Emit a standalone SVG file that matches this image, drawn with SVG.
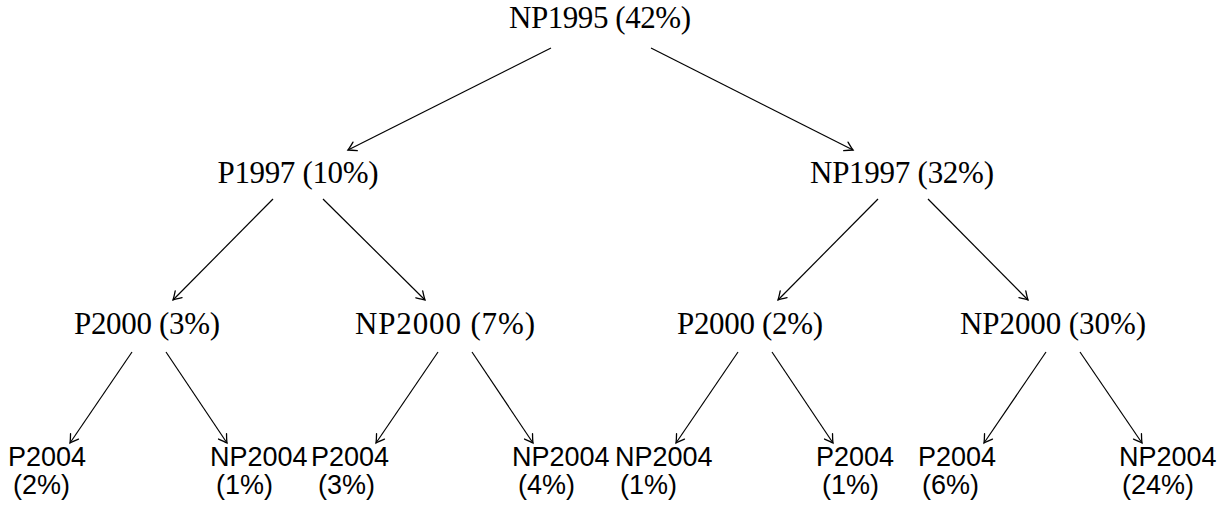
<svg xmlns="http://www.w3.org/2000/svg" width="1225" height="510" viewBox="0 0 1225 510">
  <defs>
    <marker id="tip" markerUnits="userSpaceOnUse" markerWidth="14" markerHeight="14" viewBox="-10 -7 12 14" refX="0" refY="0" orient="auto">
      <path d="M -8 -4.8 Q -2.5 -1.2 0 0 Q -2.5 1.2 -8 4.8" fill="none" stroke="#000" stroke-width="1.3" stroke-linecap="round"/>
    </marker>
    <style>
      .inner { font-family: "Liberation Serif", "DejaVu Serif", serif; font-size: 31px; fill: #000; text-anchor: middle; }
      .leaf { font-family: "Liberation Sans", "DejaVu Sans", sans-serif; font-size: 27px; fill: #000; }
      .edge { stroke: #000; stroke-width: 1.2; fill: none; marker-end: url(#tip); }
    </style>
  </defs>
  <rect width="1225" height="510" fill="#fff"/>

  <g id="edges">
    <line class="edge" x1="551" y1="48" x2="348" y2="150"/>
    <line class="edge" x1="651" y1="48" x2="853" y2="150"/>
    <line class="edge" x1="273" y1="199" x2="173" y2="300"/>
    <line class="edge" x1="323" y1="199" x2="425" y2="300"/>
    <line class="edge" x1="878" y1="199" x2="778" y2="300"/>
    <line class="edge" x1="928" y1="199" x2="1028" y2="300"/>
    <line class="edge" x1="132" y1="352" x2="70" y2="443"/>
    <line class="edge" x1="166" y1="352" x2="227" y2="443"/>
    <line class="edge" x1="438" y1="352" x2="376" y2="443"/>
    <line class="edge" x1="472" y1="352" x2="533" y2="443"/>
    <line class="edge" x1="738" y1="352" x2="676" y2="443"/>
    <line class="edge" x1="772" y1="352" x2="833" y2="443"/>
    <line class="edge" x1="1046" y1="352" x2="984" y2="443"/>
    <line class="edge" x1="1080" y1="352" x2="1142" y2="443"/>
  </g>

  <g id="np1995"><text class="inner" x="600" y="28" textLength="182">NP1995 (42%)</text></g>
  <g id="p1997"><text class="inner" x="298" y="183" textLength="161">P1997 (10%)</text></g>
  <g id="np1997"><text class="inner" x="902" y="183" textLength="184">NP1997 (32%)</text></g>
  <g id="p1997-p2000"><text class="inner" x="147" y="334" textLength="146">P2000 (3%)</text></g>
  <g id="p1997-np2000"><text class="inner" x="445" y="334" textLength="180">NP2000 (7%)</text></g>
  <g id="np1997-p2000"><text class="inner" x="750" y="334" textLength="146">P2000 (2%)</text></g>
  <g id="np1997-np2000"><text class="inner" x="1053" y="334" textLength="186">NP2000 (30%)</text></g>

  <g id="leaf1"><text class="leaf" x="8" y="466">P2004</text><text class="leaf" x="13" y="494">(2%)</text></g>
  <g id="leaf2"><text class="leaf" x="210" y="466">NP2004</text><text class="leaf" x="216" y="494">(1%)</text></g>
  <g id="leaf3"><text class="leaf" x="311" y="466">P2004</text><text class="leaf" x="318" y="494">(3%)</text></g>
  <g id="leaf4"><text class="leaf" x="512" y="466">NP2004</text><text class="leaf" x="518" y="494">(4%)</text></g>
  <g id="leaf5"><text class="leaf" x="615" y="466">NP2004</text><text class="leaf" x="620" y="494">(1%)</text></g>
  <g id="leaf6"><text class="leaf" x="816" y="466">P2004</text><text class="leaf" x="822" y="494">(1%)</text></g>
  <g id="leaf7"><text class="leaf" x="918" y="466">P2004</text><text class="leaf" x="922" y="494">(6%)</text></g>
  <g id="leaf8"><text class="leaf" x="1119" y="466">NP2004</text><text class="leaf" x="1122" y="494">(24%)</text></g>
</svg>
